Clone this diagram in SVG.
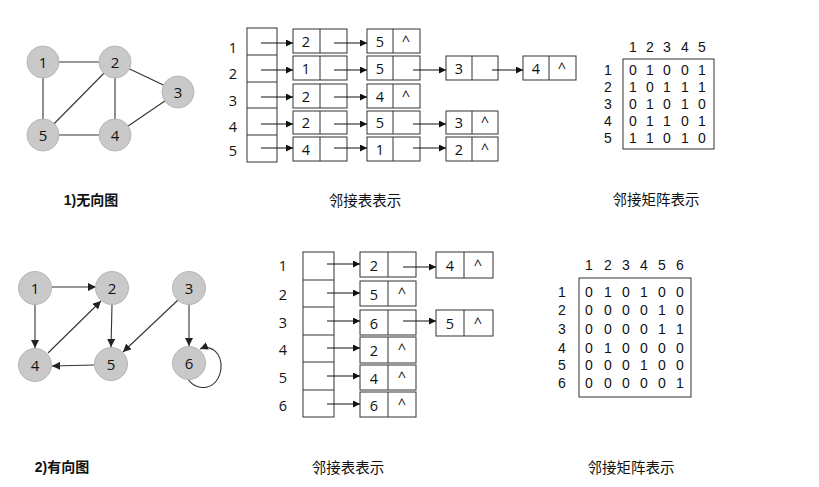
<svg xmlns="http://www.w3.org/2000/svg" width="819" height="487" viewBox="0 0 819 487">
<defs>
<marker id="ah" viewBox="0 0 10 10" refX="10" refY="5" markerWidth="7" markerHeight="7" markerUnits="userSpaceOnUse" orient="auto">
<path d="M0,0 L10,5 L0,10 z" fill="#111"/>
</marker>
<marker id="ah2" viewBox="0 0 10 10" refX="10" refY="5" markerWidth="8" markerHeight="8" markerUnits="userSpaceOnUse" orient="auto">
<path d="M0,0 L10,5 L0,10 z" fill="#222"/>
</marker>
</defs>
<style>
.bg{fill:#fff}
.node circle{fill:#c9c9c9;stroke:#b5b5b5;stroke-width:1}
.nt{font-family:"Open Sans","Liberation Sans",sans-serif;font-size:15px;fill:#111;text-anchor:middle;dominant-baseline:central}
.edge{stroke:#333;stroke-width:1.1;fill:none}
.dedge{stroke:#333;stroke-width:1.1;fill:none;marker-end:url(#ah2)}
.box{fill:#fff;stroke:#333;stroke-width:1}
.cell{stroke:#333;stroke-width:1}
.t{font-family:"Open Sans","Liberation Sans",sans-serif;font-size:14.5px;fill:#111;text-anchor:middle;dominant-baseline:central}
.m{font-family:"Liberation Sans","Open Sans",sans-serif;font-size:14px;fill:#111;text-anchor:middle;dominant-baseline:central}
.ptr{stroke:#111;stroke-width:1;fill:none;marker-end:url(#ah)}
.cap{font-family:"Noto Sans CJK SC","Liberation Sans",sans-serif;font-size:14.5px;fill:#111;text-anchor:middle;dominant-baseline:central}
.capb{font-family:"Liberation Sans","Noto Sans CJK SC",sans-serif;font-size:14px;font-weight:bold;fill:#111;text-anchor:middle;dominant-baseline:central}
</style>
<rect class="bg" x="0" y="0" width="819" height="487"/>

<!-- Undirected graph -->
<g id="ug-edges">
<line class="edge" x1="43" y1="62" x2="115" y2="62"/>
<line class="edge" x1="43" y1="62" x2="43" y2="135"/>
<line class="edge" x1="115" y1="62" x2="43" y2="135"/>
<line class="edge" x1="115" y1="62" x2="115" y2="135"/>
<line class="edge" x1="115" y1="62" x2="178" y2="92"/>
<line class="edge" x1="178" y1="92" x2="115" y2="135"/>
<line class="edge" x1="43" y1="135" x2="115" y2="135"/>
</g>
<g id="ug-n1" class="node"><circle cx="43" cy="62" r="16"/><text class="nt" x="43" y="62">1</text></g>
<g id="ug-n2" class="node"><circle cx="115" cy="62" r="16"/><text class="nt" x="115" y="62">2</text></g>
<g id="ug-n3" class="node"><circle cx="178" cy="92" r="16"/><text class="nt" x="178" y="92">3</text></g>
<g id="ug-n4" class="node"><circle cx="115" cy="135" r="16"/><text class="nt" x="115" y="135">4</text></g>
<g id="ug-n5" class="node"><circle cx="43" cy="135" r="16"/><text class="nt" x="43" y="135">5</text></g>
<text class="capb" x="91" y="200">1)无向图</text>

<!-- Top adjacency list -->
<g id="al1">
<g id="al1-head">
<rect class="box" x="247" y="28" width="30" height="134"/>
<line class="cell" x1="247" y1="55" x2="277" y2="55"/>
<line class="cell" x1="247" y1="82" x2="277" y2="82"/>
<line class="cell" x1="247" y1="108" x2="277" y2="108"/>
<line class="cell" x1="247" y1="135" x2="277" y2="135"/>
<text class="t" x="233" y="47">1</text>
<text class="t" x="233" y="73">2</text>
<text class="t" x="233" y="100">3</text>
<text class="t" x="233" y="126">4</text>
<text class="t" x="233" y="150">5</text>
</g>
<g id="al1-r1c1"><rect class="box" x="293" y="29" width="54" height="24"/><line class="cell" x1="320" y1="29" x2="320" y2="53"/><text class="t" x="306" y="41">2</text></g>
<g id="al1-r1c2"><rect class="box" x="367" y="29" width="53" height="24"/><line class="cell" x1="393" y1="29" x2="393" y2="53"/><text class="t" x="380" y="41">5</text><text class="t" x="406" y="40">^</text></g>
<g id="al1-r2c1"><rect class="box" x="293" y="56" width="54" height="24"/><line class="cell" x1="320" y1="56" x2="320" y2="80"/><text class="t" x="306" y="68">1</text></g>
<g id="al1-r2c2"><rect class="box" x="367" y="56" width="53" height="24"/><line class="cell" x1="393" y1="56" x2="393" y2="80"/><text class="t" x="380" y="68">5</text></g>
<g id="al1-r2c3"><rect class="box" x="446" y="56" width="52" height="24"/><line class="cell" x1="472" y1="56" x2="472" y2="80"/><text class="t" x="459" y="68">3</text></g>
<g id="al1-r2c4"><rect class="box" x="523" y="56" width="53" height="24"/><line class="cell" x1="549" y1="56" x2="549" y2="80"/><text class="t" x="536" y="68">4</text><text class="t" x="562" y="67">^</text></g>
<g id="al1-r3c1"><rect class="box" x="293" y="84" width="54" height="24"/><line class="cell" x1="320" y1="84" x2="320" y2="108"/><text class="t" x="306" y="96">2</text></g>
<g id="al1-r3c2"><rect class="box" x="367" y="84" width="53" height="24"/><line class="cell" x1="393" y1="84" x2="393" y2="108"/><text class="t" x="380" y="96">4</text><text class="t" x="406" y="95">^</text></g>
<g id="al1-r4c1"><rect class="box" x="293" y="111" width="54" height="23"/><line class="cell" x1="320" y1="111" x2="320" y2="134"/><text class="t" x="306" y="122.5">2</text></g>
<g id="al1-r4c2"><rect class="box" x="367" y="111" width="53" height="23"/><line class="cell" x1="393" y1="111" x2="393" y2="134"/><text class="t" x="380" y="122.5">5</text></g>
<g id="al1-r4c3"><rect class="box" x="446" y="111" width="52" height="23"/><line class="cell" x1="472" y1="111" x2="472" y2="134"/><text class="t" x="459" y="122.5">3</text><text class="t" x="485" y="121.5">^</text></g>
<g id="al1-r5c1"><rect class="box" x="293" y="137" width="54" height="24"/><line class="cell" x1="320" y1="137" x2="320" y2="161"/><text class="t" x="306" y="149">4</text></g>
<g id="al1-r5c2"><rect class="box" x="367" y="137" width="53" height="24"/><line class="cell" x1="393" y1="137" x2="393" y2="161"/><text class="t" x="380" y="149">1</text></g>
<g id="al1-r5c3"><rect class="box" x="446" y="137" width="52" height="24"/><line class="cell" x1="472" y1="137" x2="472" y2="161"/><text class="t" x="459" y="149">2</text><text class="t" x="485" y="148">^</text></g>
</g>
<g id="al1-pointers">
<line class="ptr" x1="261" y1="43" x2="293" y2="43"/>
<line class="ptr" x1="334" y1="43" x2="367" y2="43"/>
<line class="ptr" x1="261" y1="70" x2="293" y2="70"/>
<line class="ptr" x1="334" y1="70" x2="367" y2="70"/>
<line class="ptr" x1="413" y1="70" x2="446" y2="70"/>
<line class="ptr" x1="492" y1="70" x2="523" y2="70"/>
<line class="ptr" x1="261" y1="97" x2="293" y2="97"/>
<line class="ptr" x1="334" y1="97" x2="367" y2="97"/>
<line class="ptr" x1="261" y1="124" x2="293" y2="124"/>
<line class="ptr" x1="334" y1="124" x2="367" y2="124"/>
<line class="ptr" x1="413" y1="124" x2="446" y2="124"/>
<line class="ptr" x1="261" y1="148" x2="293" y2="148"/>
<line class="ptr" x1="334" y1="148" x2="367" y2="148"/>
<line class="ptr" x1="413" y1="148" x2="446" y2="148"/>
</g>
<text class="cap" x="365" y="199">邻接表表示</text>

<!-- Top matrix -->
<g id="m1">
<rect class="box" x="623" y="59" width="91" height="90"/>
<text class="m" x="633" y="47">1</text><text class="m" x="650" y="47">2</text><text class="m" x="667" y="47">3</text><text class="m" x="685" y="47">4</text><text class="m" x="702" y="47">5</text>
<text class="m" x="608" y="70">1</text><text class="m" x="608" y="87">2</text><text class="m" x="608" y="104">3</text><text class="m" x="608" y="121">4</text><text class="m" x="608" y="138">5</text>
<text class="m" x="633" y="70">0</text><text class="m" x="650" y="70">1</text><text class="m" x="667" y="70">0</text><text class="m" x="685" y="70">0</text><text class="m" x="702" y="70">1</text>
<text class="m" x="633" y="87">1</text><text class="m" x="650" y="87">0</text><text class="m" x="667" y="87">1</text><text class="m" x="685" y="87">1</text><text class="m" x="702" y="87">1</text>
<text class="m" x="633" y="104">0</text><text class="m" x="650" y="104">1</text><text class="m" x="667" y="104">0</text><text class="m" x="685" y="104">1</text><text class="m" x="702" y="104">0</text>
<text class="m" x="633" y="121">0</text><text class="m" x="650" y="121">1</text><text class="m" x="667" y="121">1</text><text class="m" x="685" y="121">0</text><text class="m" x="702" y="121">1</text>
<text class="m" x="633" y="138">1</text><text class="m" x="650" y="138">1</text><text class="m" x="667" y="138">0</text><text class="m" x="685" y="138">1</text><text class="m" x="702" y="138">0</text>
</g>
<text class="cap" x="656" y="198">邻接矩阵表示</text>

<!-- Directed graph -->
<g id="dg-edges">
<line class="dedge" x1="52" y1="287" x2="96" y2="287"/>
<line class="dedge" x1="35" y1="305" x2="35" y2="348"/>
<line class="dedge" x1="48" y1="353" x2="101" y2="301"/>
<line class="dedge" x1="112" y1="305" x2="111" y2="347"/>
<line class="dedge" x1="94" y1="365" x2="52" y2="366"/>
<line class="dedge" x1="178" y1="300" x2="123" y2="352"/>
<line class="dedge" x1="189" y1="305" x2="189" y2="346"/>
<path class="dedge" d="M188,379 C197,393 219,390 221,368 C222,354 212,344 200,349"/>
</g>
<g id="dg-n1" class="node"><circle cx="35" cy="288" r="16.5"/><text class="nt" x="35" y="288">1</text></g>
<g id="dg-n2" class="node"><circle cx="112" cy="288" r="16.5"/><text class="nt" x="112" y="288">2</text></g>
<g id="dg-n3" class="node"><circle cx="189" cy="288" r="16.5"/><text class="nt" x="189" y="288">3</text></g>
<g id="dg-n4" class="node"><circle cx="35" cy="365" r="16.5"/><text class="nt" x="35" y="365">4</text></g>
<g id="dg-n5" class="node"><circle cx="111" cy="364" r="16.5"/><text class="nt" x="111" y="364">5</text></g>
<g id="dg-n6" class="node"><circle cx="189" cy="363" r="16.5"/><text class="nt" x="189" y="363">6</text></g>
<text class="capb" x="62" y="467">2)有向图</text>

<!-- Bottom adjacency list -->
<g id="al2">
<g id="al2-head">
<rect class="box" x="303" y="252" width="31" height="165"/>
<line class="cell" x1="303" y1="280" x2="334" y2="280"/>
<line class="cell" x1="303" y1="307" x2="334" y2="307"/>
<line class="cell" x1="303" y1="335" x2="334" y2="335"/>
<line class="cell" x1="303" y1="362" x2="334" y2="362"/>
<line class="cell" x1="303" y1="390" x2="334" y2="390"/>
<text class="t" x="283" y="265">1</text>
<text class="t" x="283" y="294">2</text>
<text class="t" x="283" y="322">3</text>
<text class="t" x="283" y="349">4</text>
<text class="t" x="283" y="377">5</text>
<text class="t" x="283" y="405">6</text>
</g>
<g id="al2-r1c1"><rect class="box" x="360" y="252" width="56" height="25"/><line class="cell" x1="388" y1="252" x2="388" y2="277"/><text class="t" x="374" y="265">2</text></g>
<g id="al2-r1c2"><rect class="box" x="436" y="252" width="57" height="26"/><line class="cell" x1="464" y1="252" x2="464" y2="278"/><text class="t" x="450" y="265">4</text><text class="t" x="478" y="264">^</text></g>
<g id="al2-r2c1"><rect class="box" x="360" y="281" width="56" height="25"/><line class="cell" x1="388" y1="281" x2="388" y2="306"/><text class="t" x="374" y="294">5</text><text class="t" x="402" y="292">^</text></g>
<g id="al2-r3c1"><rect class="box" x="360" y="310" width="56" height="25"/><line class="cell" x1="388" y1="310" x2="388" y2="335"/><text class="t" x="374" y="323">6</text></g>
<g id="al2-r3c2"><rect class="box" x="436" y="310" width="57" height="26"/><line class="cell" x1="464" y1="310" x2="464" y2="336"/><text class="t" x="450" y="323">5</text><text class="t" x="478" y="322">^</text></g>
<g id="al2-r4c1"><rect class="box" x="360" y="337" width="56" height="26"/><line class="cell" x1="388" y1="337" x2="388" y2="363"/><text class="t" x="374" y="350">2</text><text class="t" x="402" y="348">^</text></g>
<g id="al2-r5c1"><rect class="box" x="360" y="365" width="56" height="25"/><line class="cell" x1="388" y1="365" x2="388" y2="390"/><text class="t" x="374" y="378">4</text><text class="t" x="402" y="376">^</text></g>
<g id="al2-r6c1"><rect class="box" x="360" y="392" width="56" height="25"/><line class="cell" x1="388" y1="392" x2="388" y2="417"/><text class="t" x="374" y="405">6</text><text class="t" x="402" y="403">^</text></g>
</g>
<g id="al2-pointers">
<line class="ptr" x1="327" y1="264" x2="360" y2="264"/>
<line class="ptr" x1="403" y1="267" x2="436" y2="267"/>
<line class="ptr" x1="327" y1="293" x2="360" y2="293"/>
<line class="ptr" x1="327" y1="321" x2="360" y2="321"/>
<line class="ptr" x1="403" y1="321" x2="436" y2="321"/>
<line class="ptr" x1="327" y1="348" x2="360" y2="348"/>
<line class="ptr" x1="327" y1="376" x2="360" y2="376"/>
<line class="ptr" x1="327" y1="404" x2="360" y2="404"/>
</g>
<text class="cap" x="348" y="466">邻接表表示</text>

<!-- Bottom matrix -->
<g id="m2">
<rect class="box" x="579" y="278" width="112" height="119"/>
<text class="m" x="589" y="265">1</text><text class="m" x="608" y="265">2</text><text class="m" x="626" y="265">3</text><text class="m" x="644" y="265">4</text><text class="m" x="662" y="265">5</text><text class="m" x="680" y="265">6</text>
<text class="m" x="562" y="292">1</text><text class="m" x="562" y="310">2</text><text class="m" x="562" y="329">3</text><text class="m" x="562" y="348">4</text><text class="m" x="562" y="365">5</text><text class="m" x="562" y="383">6</text>
<text class="m" x="589" y="292">0</text><text class="m" x="608" y="292">1</text><text class="m" x="626" y="292">0</text><text class="m" x="644" y="292">1</text><text class="m" x="662" y="292">0</text><text class="m" x="680" y="292">0</text>
<text class="m" x="589" y="310">0</text><text class="m" x="608" y="310">0</text><text class="m" x="626" y="310">0</text><text class="m" x="644" y="310">0</text><text class="m" x="662" y="310">1</text><text class="m" x="680" y="310">0</text>
<text class="m" x="589" y="329">0</text><text class="m" x="608" y="329">0</text><text class="m" x="626" y="329">0</text><text class="m" x="644" y="329">0</text><text class="m" x="662" y="329">1</text><text class="m" x="680" y="329">1</text>
<text class="m" x="589" y="348">0</text><text class="m" x="608" y="348">1</text><text class="m" x="626" y="348">0</text><text class="m" x="644" y="348">0</text><text class="m" x="662" y="348">0</text><text class="m" x="680" y="348">0</text>
<text class="m" x="589" y="365">0</text><text class="m" x="608" y="365">0</text><text class="m" x="626" y="365">0</text><text class="m" x="644" y="365">1</text><text class="m" x="662" y="365">0</text><text class="m" x="680" y="365">0</text>
<text class="m" x="589" y="383">0</text><text class="m" x="608" y="383">0</text><text class="m" x="626" y="383">0</text><text class="m" x="644" y="383">0</text><text class="m" x="662" y="383">0</text><text class="m" x="680" y="383">1</text>
</g>
<text class="cap" x="631" y="466">邻接矩阵表示</text>
</svg>
